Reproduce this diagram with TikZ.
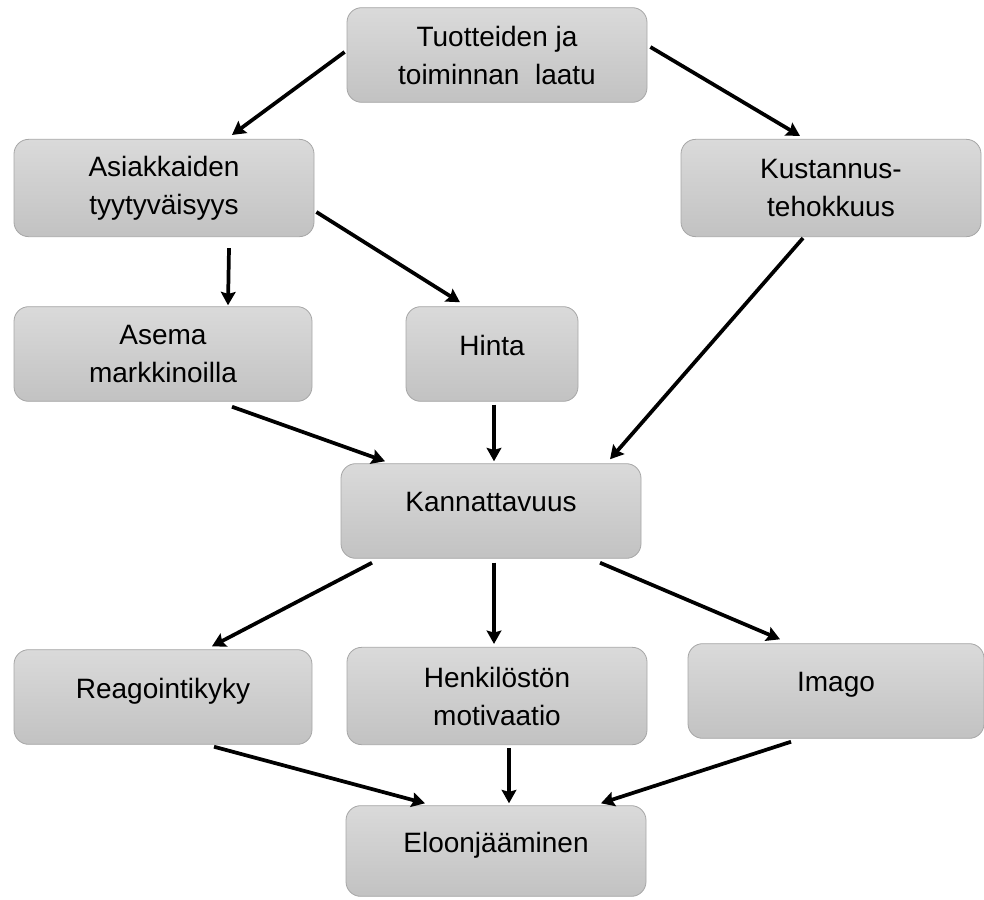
\documentclass[tikz,border=0pt]{standalone}
\usepackage{fontspec}
\setmainfont{Liberation Sans}
\usetikzlibrary{arrows.meta}
\definecolor{boxtop}{HTML}{DADADA}
\definecolor{boxbot}{HTML}{C2C2C2}
\definecolor{boxline}{HTML}{A6A6A6}
\begin{document}
\begin{tikzpicture}[x=0.75pt,y=-0.75pt,
  box/.style={draw=boxline, line width=0.6pt, rounded corners=11pt,
    top color=boxtop, bottom color=boxbot, align=center,
    font=\fontsize{21pt}{28.5pt}\selectfont, text=black,
    minimum width=225pt, minimum height=71pt, inner sep=0pt},
  oneline/.style={text depth=13pt},
  link/.style={line width=2.8pt, -{Stealth[length=10pt,width=11pt,inset=1.5pt]}}]
\useasboundingbox (0,0) rectangle (984,899);

\node[box] (t)   at (497,55)  {Tuotteiden ja\\toiminnan\ \ laatu};
\node[box, minimum height=73pt] (a)   at (164,188) {Asiakkaiden\\tyytyväisyys};
\node[box, minimum height=73pt] (k)   at (831,188) {Kustannus-\\tehokkuus};
\node[box, minimum width=223.5pt] (as)  at (163,354) {Asema\\markkinoilla};
\node[box, oneline, minimum width=129pt] (h)   at (492,354) {Hinta};
\node[box, oneline] (kan) at (491,511) {Kannattavuus};
\node[box, oneline, minimum width=223.5pt] (r)   at (163,697) {Reagointikyky};
\node[box, minimum height=73pt] (he)  at (497,696) {Henkilöstön\\motivaatio};
\node[box, oneline, minimum width=222pt] (im)  at (836,691) {Imago};
\node[box, oneline, minimum height=68pt] (e)   at (496,851) {Eloonjääminen};

\draw[link] ([shift={(-2,-3)}]t.west)  -- ([shift={(68,-4)}]a.north);
\draw[link] ([shift={(3,-8)}]t.east)   -- ([shift={(-31,-3)}]k.north);
\draw[link] ([shift={(65,11)}]a.south) -- ([shift={(65,-1)}]as.north);
\draw[link] ([shift={(2,24)}]a.east)   -- ([shift={(-32,-4)}]h.north);
\draw[link] ([shift={(-28,1)}]k.south) -- ([shift={(119,-4)}]kan.north);
\draw[link] ([shift={(69,5)}]as.south) -- ([shift={(-106,-2)}]kan.north);
\draw[link] ([shift={(2,3)}]h.south)   -- ([shift={(3,-2)}]kan.north);
\draw[link] ([shift={(-119,4)}]kan.south) -- ([shift={(49,-3)}]r.north);
\draw[link] ([shift={(3,4)}]kan.south)    -- ([shift={(-3,-3)}]he.north);
\draw[link] ([shift={(109,4)}]kan.south)  -- ([shift={(-56,-4)}]im.north);
\draw[link] ([shift={(51,2)}]r.south)   -- ([shift={(-71,-2)}]e.north);
\draw[link] ([shift={(12,3)}]he.south)  -- ([shift={(13,-2)}]e.north);
\draw[link] ([shift={(-45,3)}]im.south) -- ([shift={(105,-2)}]e.north);
\end{tikzpicture}
\end{document}
